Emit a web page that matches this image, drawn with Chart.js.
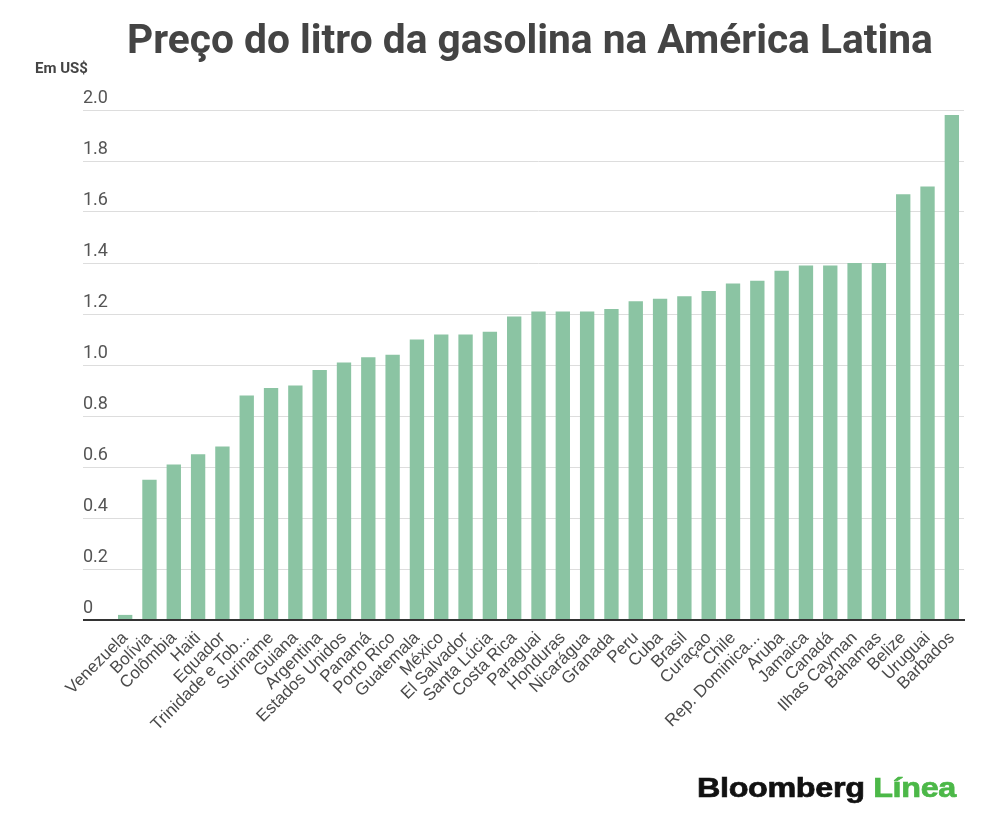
<!DOCTYPE html>
<html>
<head>
<meta charset="utf-8">
<script src="https://cdn.jsdelivr.net/npm/chart.js@4"></script>
<style>
  html, body { margin: 0; padding: 0; background: #ffffff; }
  #wrap { position: relative; width: 1000px; height: 831px; overflow: hidden; }
  #c { position: absolute; left: 0; top: 0; }
  #title { position: absolute; left: 30px; width: 1000px; top: 19px; text-align: center; font: 700 40.7px/1 Roboto, sans-serif; color: #444; white-space: nowrap; }
  #unit { position: absolute; left: 35px; top: 59px; font: 700 15px Roboto, sans-serif; color: #444; white-space: nowrap; }
  #logo { position: absolute; left: 697px; top: 772px; font: 700 28px "Liberation Sans", Arial, sans-serif; letter-spacing: -0.3px; white-space: nowrap; transform-origin: 0 0; transform: scaleX(1.155); color: #111; -webkit-text-stroke: 0.7px #111; }
  #logo span { color: #4cb848; -webkit-text-stroke: 0.7px #4cb848; }
</style>
</head>
<body>
<div id="wrap">
  <canvas id="c" width="1000" height="831"></canvas>
  <div id="title">Preço do litro da gasolina na América Latina</div>
  <div id="unit">Em US$</div>
  <div id="logo">Bloomberg <span>Línea</span></div>
</div>
<script>
const countries = ["Venezuela","Bolívia","Colômbia","Haiti","Equador","Trinidade e Tob...","Suriname","Guiana","Argentina","Estados Unidos","Panamá","Porto Rico","Guatemala","México","El Salvador","Santa Lúcia","Costa Rica","Paraguai","Honduras","Nicarágua","Granada","Peru","Cuba","Brasil","Curaçao","Chile","Rep. Dominica...","Aruba","Jamaica","Canadá","Ilhas Cayman","Bahamas","Belize","Uruguai","Barbados"];
const prices = [0.02,0.55,0.61,0.65,0.68,0.88,0.91,0.92,0.98,1.01,1.03,1.04,1.10,1.12,1.12,1.13,1.19,1.21,1.21,1.21,1.22,1.25,1.26,1.27,1.29,1.32,1.33,1.37,1.39,1.39,1.40,1.40,1.67,1.70,1.98];
const yMin = 0, yMax = 2.0, yStep = 0.2;

new Chart(document.getElementById('c'), {
  type: 'bar',
  data: {
    labels: countries,
    datasets: [{
      data: prices,
      backgroundColor: '#8bc4a3',
      borderWidth: 0,
      categoryPercentage: 1.0,
      barPercentage: 0.59
    }]
  },
  options: {
    responsive: false,
    animation: false,
    devicePixelRatio: 1,
    layout: { padding: { left: 83, right: 36, top: 110, bottom: 0 } },
    plugins: {
      legend: { display: false },
      tooltip: { enabled: false },
      title: { display: false }
    },
    scales: {
      x: {
        z: 1,
        grid: { display: false, drawTicks: false },
        border: { display: true, color: '#333333', width: 2 },
        ticks: {
          autoSkip: false,
          maxRotation: 45,
          minRotation: 45,
          padding: 8,
          color: '#4a4a4a',
          font: { family: 'Liberation Sans', size: 17 }
        },
        afterFit: s => { s.height = 211; }
      },
      y: {
        min: yMin,
        max: yMax,
        border: { display: false },
        grid: {
          drawTicks: true,
          tickLength: 30,
          color: ctx => (ctx.tick && ctx.tick.value === 0) ? '#333333' : '#dddddd',
          tickColor: ctx => (ctx.tick && ctx.tick.value === 0) ? '#333333' : '#dddddd',
          lineWidth: ctx => (ctx.tick && ctx.tick.value === 0) ? 2 : 1
        },
        ticks: {
          stepSize: yStep,
          crossAlign: 'far',
          padding: 0,
          labelOffset: -12,
          color: '#555555',
          font: { family: 'Roboto', size: 18 },
          callback: v => v === 0 ? '0' : Number(v).toFixed(1)
        },
        afterFit: s => { s.width = 30; }
      }
    }
  }
});
</script>
</body>
</html>
